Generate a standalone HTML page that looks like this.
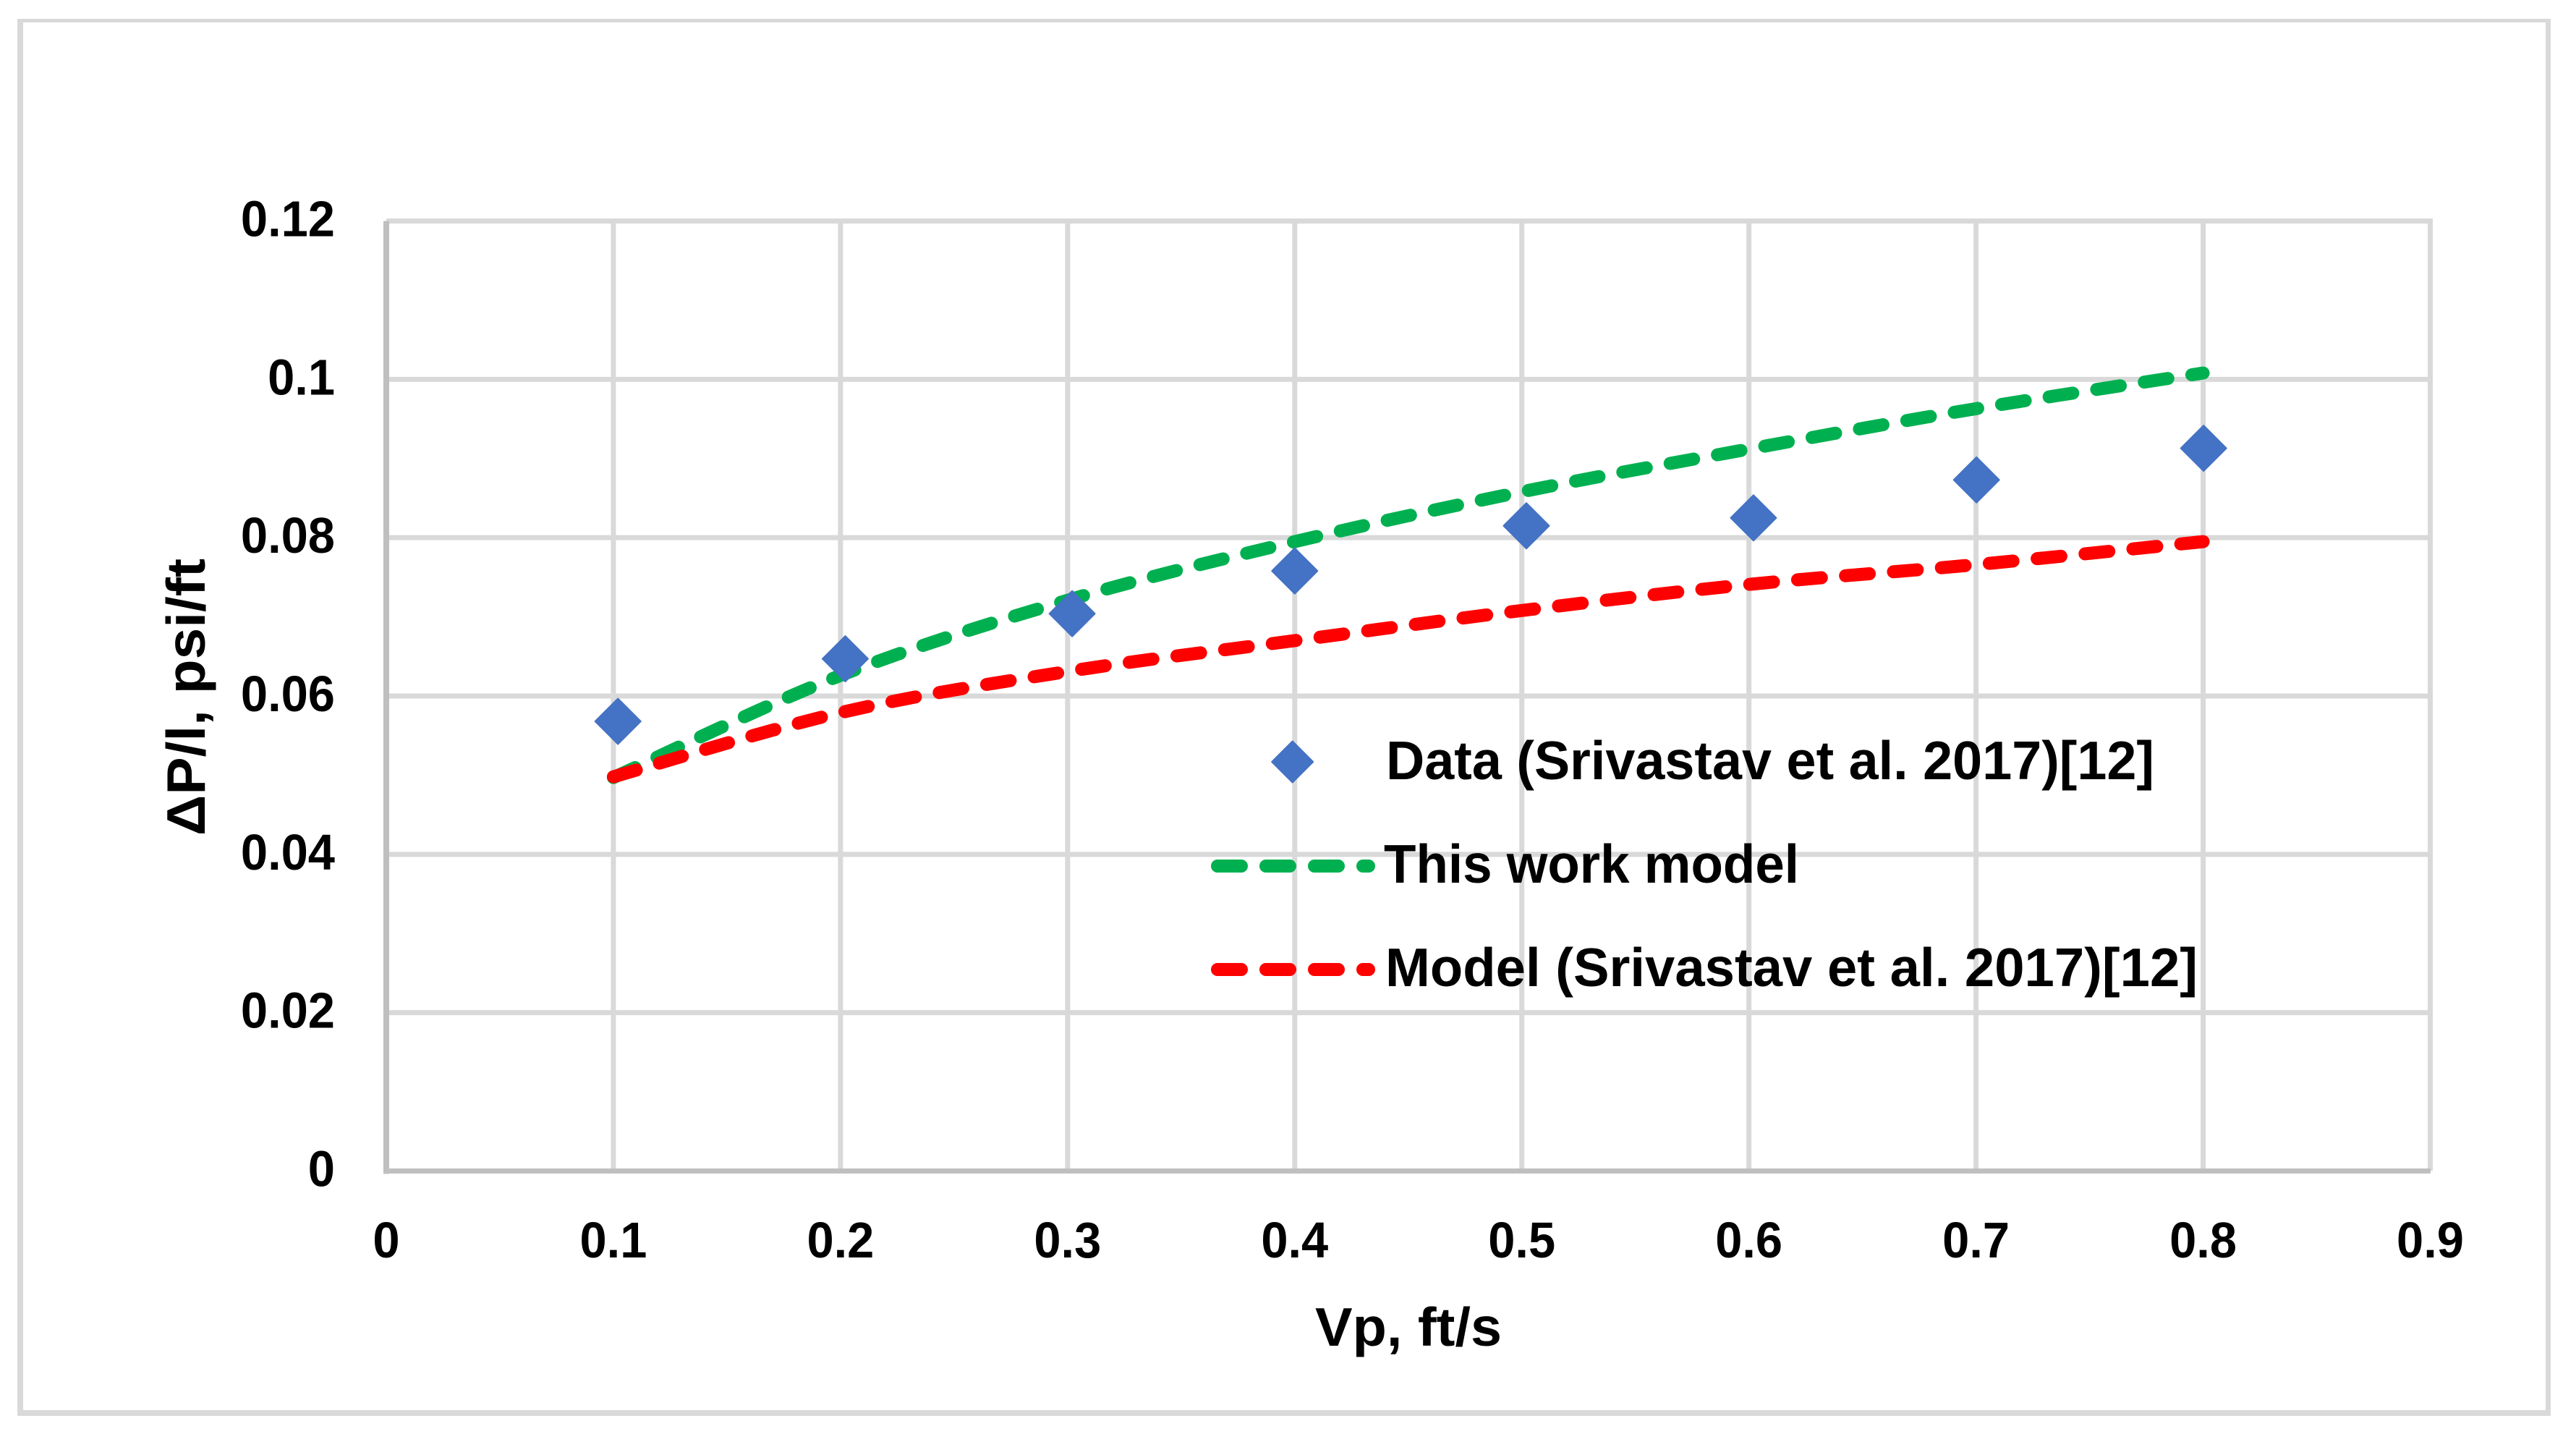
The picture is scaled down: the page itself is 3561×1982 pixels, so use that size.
<!DOCTYPE html>
<html lang="en">
<head>
<meta charset="utf-8">
<title>Pressure gradient vs particle velocity</title>
<style>
  html, body { margin: 0; padding: 0; background: #fff; }
  svg { display: block; }
  text { font-family: "Liberation Sans", sans-serif; font-weight: 700; fill: #000; }
</style>
</head>
<body>
<svg id="chart" xmlns="http://www.w3.org/2000/svg" width="3561" height="1982" viewBox="0 0 3561 1982">
  <rect x="0" y="0" width="3561" height="1982" fill="#ffffff"/>
  <g fill="#d9d9d9">
    <rect x="24" y="26" width="3502" height="5"/>
    <rect x="24" y="26" width="8" height="1931"/>
    <rect x="3519" y="26" width="7" height="1931"/>
    <rect x="24" y="1949" width="3502" height="8"/>
  </g>
  <g id="grid"></g>
  <g id="axes"></g>
  <g id="xticks"></g>
  <g id="yticks"></g>
  <g id="series"></g>

  <text x="1818" y="1860" font-size="75" textLength="258" lengthAdjust="spacingAndGlyphs">Vp, ft/s</text>
  <text transform="translate(283 1155) rotate(-90)" x="0" y="0" font-size="75" textLength="383" lengthAdjust="spacingAndGlyphs">ΔP/l, psi/ft</text>

  <g>
    <g>
      <polygon points="1786.7,1024.5 1815.2,1053 1786.7,1081.5 1758.2,1053" fill="#4472c4" stroke="#4472c4" stroke-width="2" stroke-linejoin="round"/>
      <text x="1916" y="1077" font-size="75" textLength="1062" lengthAdjust="spacingAndGlyphs">Data (Srivastav et al. 2017)[12]</text>
    </g>
    <g>
      <line x1="1683" y1="1197" x2="1892" y2="1197" stroke="#00b050" stroke-width="18" stroke-linecap="round" stroke-dasharray="33 34"/>
      <text x="1913" y="1220" font-size="75" textLength="574" lengthAdjust="spacingAndGlyphs">This work model</text>
    </g>
    <g>
      <line x1="1683" y1="1340" x2="1892" y2="1340" stroke="#ff0000" stroke-width="18" stroke-linecap="round" stroke-dasharray="33 34"/>
      <text x="1915" y="1363" font-size="75" textLength="1123" lengthAdjust="spacingAndGlyphs">Model (Srivastav et al. 2017)[12]</text>
    </g>
  </g>
</svg>
<script>
const xTickLabels = ['0', '0.1', '0.2', '0.3', '0.4', '0.5', '0.6', '0.7', '0.8', '0.9'];
const yTickLabels = ['0', '0.02', '0.04', '0.06', '0.08', '0.1', '0.12'];
const dataX = [0.102, 0.2021, 0.302, 0.4, 0.502, 0.602, 0.7002, 0.8002];
const dataY = [0.0568, 0.0647, 0.0704, 0.0758, 0.0815, 0.0825, 0.0873, 0.0913];
const modelX = [0.1, 0.2, 0.3, 0.4, 0.5, 0.6, 0.7, 0.8];
const thisWorkY = [0.0497, 0.0626, 0.0721, 0.0795, 0.0858, 0.0912, 0.0963, 0.1008];
const referenceModelY = [0.0498, 0.0579, 0.0631, 0.0670, 0.0708, 0.0741, 0.0766, 0.0795];

const NS = 'http://www.w3.org/2000/svg';
const plot = { left: 534, right: 3359.5, top: 305.5, bottom: 1618.5, xMax: 0.9, yMax: 0.12 };
function sx(v) { return plot.left + (v / plot.xMax) * (plot.right - plot.left); }
function sy(v) { return plot.bottom - (v / plot.yMax) * (plot.bottom - plot.top); }
function make(tag, attrs, parent) {
  const el = document.createElementNS(NS, tag);
  for (const k in attrs) el.setAttribute(k, attrs[k]);
  parent.appendChild(el);
  return el;
}
function smoothPath(xs, ys) {
  const p = xs.map(function (x, i) { return [sx(x), sy(ys[i])]; });
  let d = 'M' + p[0][0] + ' ' + p[0][1];
  for (let i = 0; i < p.length - 1; i++) {
    const a = p[Math.max(i - 1, 0)], b = p[i], c = p[i + 1], e = p[Math.min(i + 2, p.length - 1)];
    d += ' C' + (b[0] + (c[0] - a[0]) / 6) + ' ' + (b[1] + (c[1] - a[1]) / 6) + ' ' +
         (c[0] - (e[0] - b[0]) / 6) + ' ' + (c[1] - (e[1] - b[1]) / 6) + ' ' + c[0] + ' ' + c[1];
  }
  return d;
}

const grid = document.getElementById('grid');
xTickLabels.forEach(function (label) {
  const v = parseFloat(label);
  if (v === 0) return;
  const el = make('line', { x1: sx(v), x2: sx(v), y1: plot.top - 3.5, y2: plot.bottom, stroke: '#d9d9d9', 'stroke-width': 7 }, grid);
  
  
});
yTickLabels.forEach(function (label) {
  const v = parseFloat(label);
  if (v === 0) return;
  const el = make('line', { x1: plot.left, x2: plot.right + 3.5, y1: sy(v), y2: sy(v), stroke: '#d9d9d9', 'stroke-width': 7 }, grid);
  
  
});

const axes = document.getElementById('axes');
const yAxisLine = make('line', { x1: plot.left, x2: plot.left, y1: plot.top, y2: plot.bottom + 4, stroke: '#bfbfbf', 'stroke-width': 8 }, axes);


const xAxisLine = make('line', { x1: plot.left - 4, x2: plot.right + 0.5, y1: plot.bottom, y2: plot.bottom, stroke: '#bfbfbf', 'stroke-width': 7 }, axes);



function fit(el, factor) {
  const w = el.getComputedTextLength();
  el.setAttribute('textLength', (w * factor).toFixed(1));
  el.setAttribute('lengthAdjust', 'spacingAndGlyphs');
}
const xGroup = document.getElementById('xticks');
xTickLabels.forEach(function (label) {
  const t = make('text', { x: sx(parseFloat(label)), y: 1738, 'font-size': 70, 'text-anchor': 'middle' }, xGroup);
  t.textContent = label;
  
  
  fit(t, 0.955);
});
const yGroup = document.getElementById('yticks');
yTickLabels.forEach(function (label) {
  const t = make('text', { x: 463, y: sy(parseFloat(label)) + 21, 'font-size': 70, 'text-anchor': 'end' }, yGroup);
  t.textContent = label;
  
  
  fit(t, 0.955);
});

const seriesGroup = document.getElementById('series');
const greenLine = make('path', { d: smoothPath(modelX, thisWorkY), fill: 'none', stroke: '#00b050', 'stroke-width': 18, 'stroke-linecap': 'round', 'stroke-dasharray': '33 33.5' }, seriesGroup);


dataX.forEach(function (x, i) {
  const cx = sx(x), cy = sy(dataY[i]), r = 31.5;
  const pts = [cx, cy - r, cx + r, cy, cx, cy + r, cx - r, cy].join(' ');
  const d = make('polygon', { points: pts, fill: '#4472c4', stroke: '#4472c4', 'stroke-width': 2, 'stroke-linejoin': 'round' }, seriesGroup);
  
  
});
const redLine = make('path', { d: smoothPath(modelX, referenceModelY), fill: 'none', stroke: '#ff0000', 'stroke-width': 18, 'stroke-linecap': 'round', 'stroke-dasharray': '33 33.5' }, seriesGroup);


</script>
</body>
</html>
